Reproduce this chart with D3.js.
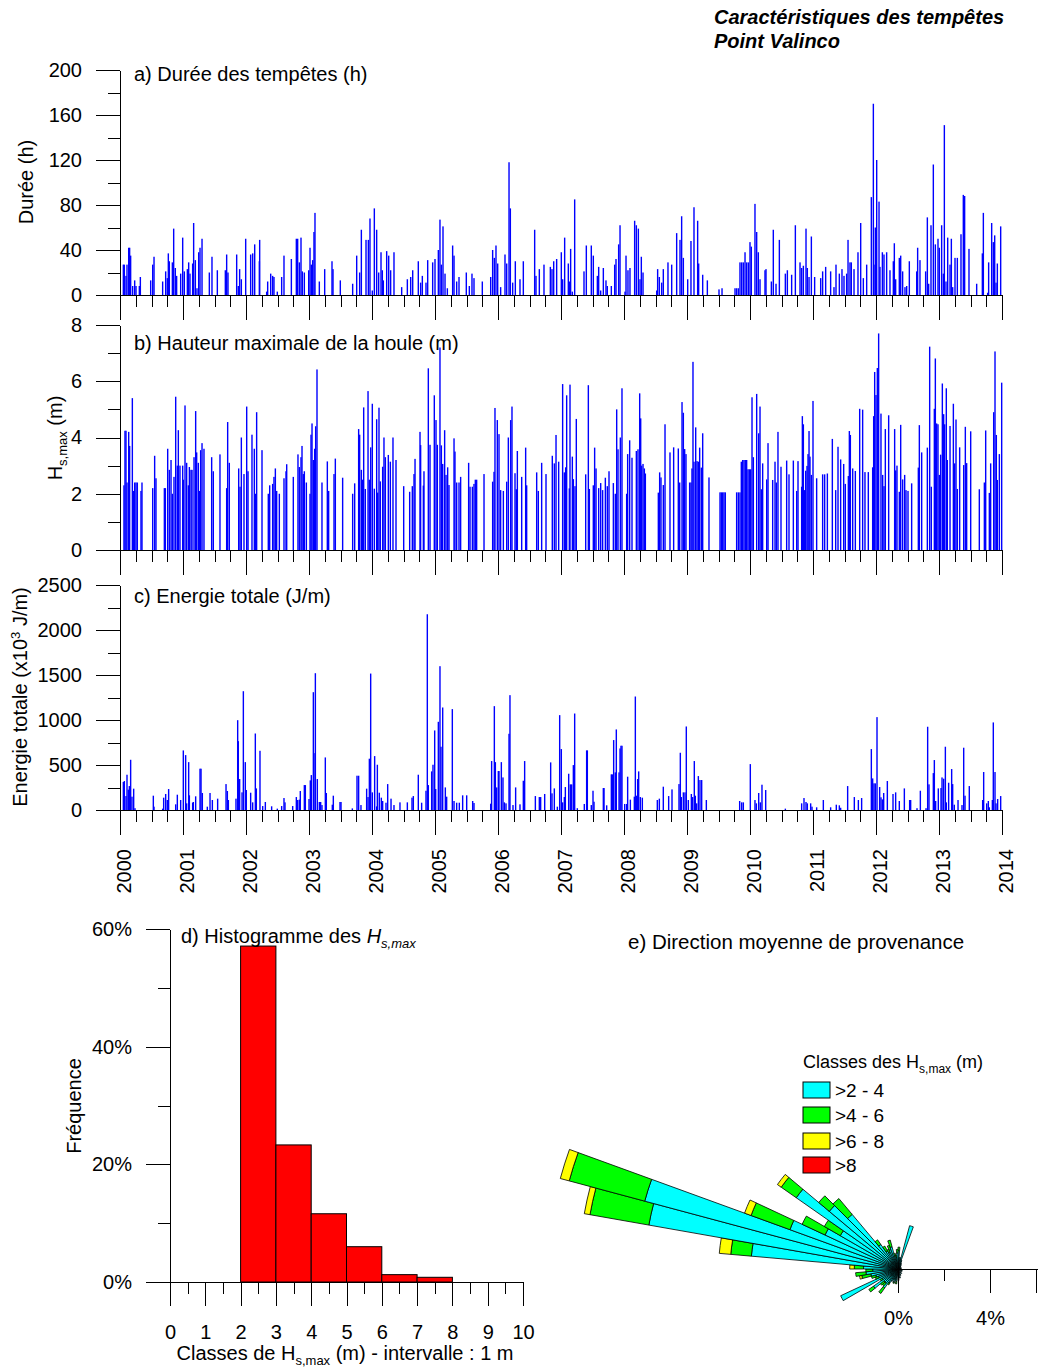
<!DOCTYPE html>
<html>
<head>
<meta charset="utf-8">
<script src="https://cdn.jsdelivr.net/npm/d3@7"></script>
<style>
	body { margin: 0; background: #fff; }
	svg { font-family: "Liberation Sans", Arial, Helvetica, sans-serif; }
	.axis path, .axis line { stroke: #000; stroke-width: 1; shape-rendering: crispEdges; }
	.axis text { font-size: 20px; fill: #000; font-family: "Liberation Sans", Arial, sans-serif; }
	.lbl { font-size: 20px; fill: #000; }
</style>
</head>
<body>
<svg id="chart" width="1038" height="1368"></svg>
<script>
// a) Durée des tempêtes (h) : date (année décimale) et durée
const dureeT = [
	2000.053, 2000.069, 2000.095, 2000.111, 2000.138, 2000.153, 2000.169, 2000.201, 2000.233, 2000.254, 2000.307, 2000.323, 2000.487, 2000.519, 2000.540, 2000.677, 2000.725, 2000.751, 2000.767, 2000.783, 2000.831, 2000.852, 2000.878, 2000.899, 2000.963, 2000.995,
	2001.021, 2001.069, 2001.090, 2001.111, 2001.153, 2001.169, 2001.196, 2001.222, 2001.249, 2001.270, 2001.302, 2001.418, 2001.460, 2001.545, 2001.672, 2001.693, 2001.714, 2001.852, 2001.878, 2001.899, 2001.926, 2001.995,
	2002.074, 2002.106, 2002.138, 2002.212, 2002.217, 2002.328, 2002.344, 2002.392, 2002.423, 2002.444, 2002.497, 2002.566, 2002.603, 2002.720, 2002.799, 2002.820, 2002.847, 2002.873, 2002.894, 2002.926, 2002.995,
	2003.016, 2003.037, 2003.058, 2003.079, 2003.095, 2003.164, 2003.249, 2003.365, 2003.381, 2003.497, 2003.693, 2003.757, 2003.804, 2003.831, 2003.905, 2003.942, 2003.968,
	2004.005, 2004.037, 2004.074, 2004.106, 2004.143, 2004.164, 2004.180, 2004.233, 2004.265, 2004.296, 2004.349, 2004.471, 2004.561, 2004.614, 2004.646, 2004.735, 2004.772, 2004.799, 2004.857, 2004.884, 2004.963,
	2005.000, 2005.053, 2005.079, 2005.101, 2005.127, 2005.159, 2005.196, 2005.280, 2005.302, 2005.344, 2005.381, 2005.497, 2005.545, 2005.587, 2005.619, 2005.751, 2005.884, 2005.915, 2005.942, 2005.968, 2005.995,
	2006.042, 2006.111, 2006.138, 2006.175, 2006.196, 2006.233, 2006.275, 2006.349, 2006.402, 2006.582, 2006.603, 2006.656, 2006.730, 2006.831, 2006.857, 2006.884, 2006.931,
	2007.005, 2007.026, 2007.058, 2007.116, 2007.132, 2007.153, 2007.180, 2007.217, 2007.365, 2007.402, 2007.481, 2007.513, 2007.577, 2007.598, 2007.630, 2007.672, 2007.714, 2007.735, 2007.799, 2007.852, 2007.873, 2007.915, 2007.937,
	2008.016, 2008.032, 2008.063, 2008.095, 2008.169, 2008.196, 2008.228, 2008.254, 2008.275, 2008.302, 2008.519, 2008.534, 2008.561, 2008.598, 2008.624, 2008.698, 2008.757, 2008.836, 2008.889, 2008.915, 2008.942,
	2009.011, 2009.063, 2009.111, 2009.169, 2009.185, 2009.249, 2009.323, 2009.508, 2009.556, 2009.762, 2009.788, 2009.815, 2009.841, 2009.868, 2009.894, 2009.921, 2009.947, 2009.974,
	2010.000, 2010.021, 2010.079, 2010.106, 2010.132, 2010.159, 2010.238, 2010.254, 2010.339, 2010.370, 2010.413, 2010.466, 2010.561, 2010.593, 2010.661, 2010.720, 2010.794, 2010.820, 2010.847, 2010.889, 2010.910, 2010.937, 2010.974,
	2011.026, 2011.122, 2011.153, 2011.201, 2011.280, 2011.333, 2011.365, 2011.418, 2011.460, 2011.492, 2011.534, 2011.556, 2011.587, 2011.608, 2011.651, 2011.714, 2011.757, 2011.799, 2011.852, 2011.926, 2011.958, 2011.968, 2011.989,
	2012.011, 2012.048, 2012.063, 2012.101, 2012.127, 2012.169, 2012.222, 2012.275, 2012.291, 2012.312, 2012.370, 2012.392, 2012.423, 2012.460, 2012.487, 2012.529, 2012.646, 2012.661, 2012.698, 2012.788, 2012.815, 2012.836, 2012.873, 2012.910, 2012.942, 2012.984,
	2013.005, 2013.042, 2013.069, 2013.085, 2013.111, 2013.138, 2013.175, 2013.196, 2013.217, 2013.254, 2013.291, 2013.349, 2013.386, 2013.407, 2013.476, 2013.598, 2013.688, 2013.704, 2013.772, 2013.788, 2013.836, 2013.862, 2013.884, 2013.905, 2013.926, 2013.979
];
const dureeV = [
	27, 27, 17, 27, 42, 42, 35, 8, 13, 8, 8, 16, 13, 27, 34, 12, 21, 15, 37, 30, 29, 59, 24, 17, 19, 51,
	21, 23, 29, 19, 28, 64, 31, 6, 38, 42, 50, 20, 34, 22, 22, 36, 20, 36, 8, 23, 14, 50,
	36, 37, 45, 30, 49, 3, 12, 19, 17, 16, 3, 16, 35, 32, 50, 50, 29, 51, 21, 20, 22,
	42, 27, 31, 56, 73, 12, 23, 30, 23, 13, 10, 35, 20, 58, 49, 49, 68,
	4, 77, 58, 20, 38, 22, 13, 39, 35, 22, 38, 7, 14, 16, 22, 30, 11, 17, 11, 31, 29,
	32, 40, 67, 27, 61, 19, 6, 44, 35, 12, 16, 20, 8, 19, 15, 12, 16, 40, 33, 44, 28,
	7, 36, 28, 118, 77, 11, 30, 14, 30, 58, 17, 23, 27, 25, 23, 30, 32,
	38, 14, 51, 28, 12, 41, 3, 85, 21, 44, 44, 35, 17, 25, 4, 24, 13, 8, 8, 27, 32, 45, 62,
	3, 35, 22, 24, 66, 62, 59, 14, 34, 20, 4, 23, 16, 11, 23, 29, 27, 55, 49, 70, 33,
	14, 48, 78, 66, 28, 18, 13, 5, 6, 6, 6, 6, 29, 29, 29, 38, 29, 29,
	47, 43, 81, 56, 38, 14, 22, 23, 12, 58, 10, 49, 19, 22, 18, 62, 29, 24, 26, 59, 24, 16, 52,
	16, 15, 21, 25, 21, 7, 27, 19, 23, 17, 19, 49, 29, 29, 23, 38, 64, 15, 27, 87, 170, 27, 60,
	120, 83, 25, 38, 36, 38, 22, 30, 46, 14, 33, 35, 21, 7, 8, 30, 21, 42, 31, 21, 69, 10, 62, 116, 45, 50,
	42, 62, 19, 151, 12, 51, 27, 50, 7, 33, 33, 54, 89, 88, 41, 10, 37, 73, 2, 29, 64, 47, 53, 11, 28, 61
];

// b) Hauteur maximale de la houle (m)
const hsT = [
	2000.063, 2000.079, 2000.095, 2000.111, 2000.138, 2000.153, 2000.196, 2000.212, 2000.233, 2000.254, 2000.275, 2000.333, 2000.349, 2000.519, 2000.550, 2000.571, 2000.704, 2000.720, 2000.757, 2000.783, 2000.810, 2000.831, 2000.857, 2000.884, 2000.910, 2000.926, 2000.952, 2000.995,
	2001.005, 2001.032, 2001.058, 2001.085, 2001.101, 2001.127, 2001.143, 2001.175, 2001.201, 2001.217, 2001.243, 2001.259, 2001.280, 2001.302, 2001.333, 2001.455, 2001.481, 2001.587, 2001.693, 2001.709, 2001.735, 2001.884, 2001.905, 2001.926, 2001.968,
	2002.011, 2002.032, 2002.095, 2002.132, 2002.148, 2002.169, 2002.254, 2002.354, 2002.376, 2002.423, 2002.444, 2002.466, 2002.487, 2002.529, 2002.603, 2002.635, 2002.646, 2002.751, 2002.825, 2002.847, 2002.873, 2002.889, 2002.910, 2002.926, 2002.958,
	2003.016, 2003.032, 2003.048, 2003.069, 2003.090, 2003.106, 2003.127, 2003.206, 2003.291, 2003.312, 2003.397, 2003.418, 2003.534, 2003.693, 2003.725, 2003.788, 2003.804, 2003.831, 2003.852, 2003.868, 2003.894, 2003.937, 2003.958, 2003.979,
	2004.005, 2004.037, 2004.074, 2004.090, 2004.111, 2004.132, 2004.169, 2004.190, 2004.212, 2004.259, 2004.291, 2004.333, 2004.381, 2004.503, 2004.598, 2004.640, 2004.667, 2004.683, 2004.762, 2004.772, 2004.815, 2004.825, 2004.894, 2004.921, 2004.989,
	2005.016, 2005.037, 2005.079, 2005.101, 2005.122, 2005.153, 2005.175, 2005.201, 2005.222, 2005.302, 2005.317, 2005.344, 2005.381, 2005.407, 2005.534, 2005.556, 2005.593, 2005.619, 2005.640, 2005.661, 2005.778, 2005.915, 2005.937, 2005.952, 2005.989,
	2006.016, 2006.042, 2006.085, 2006.138, 2006.164, 2006.201, 2006.222, 2006.270, 2006.291, 2006.307, 2006.376, 2006.439, 2006.455, 2006.614, 2006.640, 2006.693, 2006.762, 2006.862, 2006.894, 2006.921, 2006.963,
	2007.026, 2007.053, 2007.074, 2007.090, 2007.132, 2007.143, 2007.180, 2007.196, 2007.222, 2007.243, 2007.392, 2007.434, 2007.450, 2007.513, 2007.534, 2007.556, 2007.598, 2007.630, 2007.661, 2007.704, 2007.735, 2007.762, 2007.831, 2007.862, 2007.884, 2007.905, 2007.942, 2007.968,
	2008.042, 2008.058, 2008.090, 2008.127, 2008.196, 2008.222, 2008.249, 2008.265, 2008.280, 2008.302, 2008.323, 2008.339, 2008.545, 2008.566, 2008.587, 2008.624, 2008.651, 2008.730, 2008.788, 2008.862, 2008.884, 2008.921, 2008.942, 2008.963, 2008.984,
	2009.042, 2009.063, 2009.079, 2009.095, 2009.111, 2009.138, 2009.159, 2009.180, 2009.201, 2009.228, 2009.249, 2009.349, 2009.524, 2009.545, 2009.566, 2009.587, 2009.608, 2009.788, 2009.815, 2009.841, 2009.862, 2009.884, 2009.905, 2009.926, 2009.947, 2009.968, 2009.989,
	2010.011, 2010.032, 2010.053, 2010.106, 2010.138, 2010.159, 2010.180, 2010.201, 2010.265, 2010.286, 2010.360, 2010.397, 2010.418, 2010.444, 2010.492, 2010.582, 2010.619, 2010.688, 2010.741, 2010.762, 2010.820, 2010.831, 2010.847, 2010.862, 2010.884, 2010.905, 2010.921, 2010.937, 2010.952, 2010.974,
	2011.000, 2011.058, 2011.153, 2011.185, 2011.228, 2011.307, 2011.360, 2011.397, 2011.439, 2011.487, 2011.513, 2011.561, 2011.577, 2011.593, 2011.630, 2011.672, 2011.741, 2011.788, 2011.825, 2011.878, 2011.947, 2011.963, 2011.979,
	2012.000, 2012.021, 2012.042, 2012.079, 2012.106, 2012.127, 2012.148, 2012.201, 2012.296, 2012.312, 2012.333, 2012.370, 2012.392, 2012.423, 2012.455, 2012.476, 2012.508, 2012.566, 2012.672, 2012.688, 2012.725, 2012.815, 2012.852, 2012.878, 2012.926, 2012.942, 2012.963, 2012.984,
	2013.005, 2013.026, 2013.053, 2013.074, 2013.090, 2013.116, 2013.132, 2013.175, 2013.228, 2013.249, 2013.270, 2013.291, 2013.328, 2013.392, 2013.418, 2013.439, 2013.503, 2013.640, 2013.720, 2013.741, 2013.799, 2013.820, 2013.868, 2013.889, 2013.910, 2013.926, 2013.958, 2013.995
];
const hsV = [
	2.3, 4.24, 4.24, 2.4, 4.2, 3.7, 5.4, 2.1, 2.4, 2.4, 2.4, 2.1, 2.4, 2.2, 3.35, 2.55, 2.2, 2.2, 3.6, 2.85, 3.2, 2.0, 2.6, 5.45, 3.0, 4.26, 3.0, 3.0,
	2.5, 5.14, 3.1, 2.3, 2.95, 2.85, 2.85, 3.3, 4.94, 3.47, 3.1, 2.1, 3.55, 3.8, 3.6, 3.3, 2.8, 3.4, 2.2, 4.55, 3.1, 2.9, 2.25, 4.0, 2.7,
	5.1, 2.8, 4.1, 3.6, 2.0, 4.9, 3.55, 2.0, 2.3, 2.35, 2.6, 2.9, 2.1, 2.0, 2.55, 2.8, 3.05, 2.6, 3.4, 2.95, 3.3, 3.7, 2.7, 2.8, 2.4,
	2.0, 4.1, 4.5, 3.2, 3.6, 4.4, 6.42, 2.4, 3.15, 2.1, 2.7, 3.25, 2.57, 2.0, 2.37, 4.3, 4.1, 2.85, 2.5, 5.07, 2.17, 5.65, 2.5, 3.65,
	5.2, 2.18, 4.65, 2.04, 5.06, 2.44, 2.96, 4.0, 3.3, 3.38, 3.14, 4.0, 3.2, 2.27, 2.07, 2.27, 2.7, 3.24, 4.2, 3.73, 2.29, 2.8, 6.46, 3.74, 5.5,
	4.62, 3.74, 7.2, 3.72, 3.06, 4.26, 2.67, 2.94, 2.31, 3.97, 3.5, 2.4, 2.4, 2.6, 3.1, 2.25, 2.25, 2.35, 2.5, 2.5, 2.7, 2.43, 2.78, 5.05, 4.62,
	4.12, 2.13, 2.1, 2.43, 4.0, 4.62, 5.1, 2.73, 2.16, 3.52, 2.6, 3.64, 2.3, 2.76, 2.1, 3.1, 2.7, 3.35, 3.08, 4.09, 3.14,
	5.9, 2.76, 2.94, 5.5, 2.19, 5.88, 3.32, 2.52, 2.27, 4.66, 2.69, 5.86, 2.17, 2.3, 3.64, 2.9, 2.2, 2.38, 2.13, 2.57, 2.27, 2.8, 2.38, 2.0, 5.0, 3.58, 4.0, 5.75,
	2.0, 3.41, 3.9, 3.28, 3.52, 3.58, 5.57, 4.68, 3.0, 3.06, 2.9, 2.72, 2.04, 2.76, 2.58, 2.31, 4.47, 3.47, 3.65, 3.61, 2.4, 5.26, 4.88, 3.59, 3.41,
	2.4, 2.4, 2.9, 6.69, 3.14, 4.36, 3.16, 3.14, 3.64, 2.93, 4.15, 2.58, 2.05, 2.05, 2.05, 2.05, 2.05, 2.05, 2.05, 2.05, 3.14, 3.2, 3.2, 3.2, 3.2, 2.87, 2.87,
	2.87, 5.43, 3.3, 5.55, 4.15, 5.1, 2.16, 3.08, 2.51, 3.8, 2.49, 3.14, 2.4, 4.2, 2.96, 3.18, 2.69, 3.18, 2.1, 3.16, 2.25, 4.76, 4.47, 2.13, 2.82, 2.99, 3.41, 4.23, 3.32, 2.67,
	5.3, 2.55, 2.69, 2.69, 2.72, 3.95, 2.13, 3.67, 3.22, 3.06, 2.35, 2.63, 4.23, 4.09, 2.9, 2.81, 5.02, 4.99, 2.77, 2.77, 2.94, 4.76, 6.33,
	5.51, 6.47, 7.7, 4.85, 2.67, 2.27, 4.3, 4.79, 4.3, 2.83, 3.0, 2.07, 4.45, 2.51, 2.67, 2.13, 2.1, 2.37, 2.93, 4.44, 3.47, 3.64, 7.23, 2.25, 5.02, 6.81, 4.5, 4.47,
	2.67, 3.39, 5.92, 4.83, 4.47, 5.75, 3.2, 4.41, 5.2, 3.08, 4.64, 2.17, 3.65, 3.02, 4.38, 3.09, 4.22, 2.16, 2.4, 4.25, 2.03, 3.08, 4.9, 7.06, 4.09, 2.49, 3.41, 5.95
];

// c) Energie totale (x10^3 J/m)
const energieT = [
	2000.053, 2000.069, 2000.095, 2000.111, 2000.132, 2000.148, 2000.169, 2000.190, 2000.217, 2000.238, 2000.529, 2000.540, 2000.677, 2000.693, 2000.725, 2000.751, 2000.772, 2000.884, 2000.910, 2000.963,
	2001.005, 2001.042, 2001.058, 2001.090, 2001.101, 2001.153, 2001.164, 2001.201, 2001.270, 2001.286, 2001.307, 2001.386, 2001.429, 2001.466, 2001.550, 2001.683, 2001.704, 2001.720, 2001.841, 2001.868, 2001.878, 2001.899, 2001.937, 2001.958, 2001.989,
	2002.005, 2002.074, 2002.106, 2002.148, 2002.164, 2002.222, 2002.265, 2002.307, 2002.407, 2002.497, 2002.566, 2002.603, 2002.619, 2002.741, 2002.799, 2002.820, 2002.847, 2002.862, 2002.926, 2002.942,
	2003.000, 2003.021, 2003.037, 2003.069, 2003.079, 2003.101, 2003.132, 2003.164, 2003.185, 2003.206, 2003.259, 2003.275, 2003.370, 2003.386, 2003.492, 2003.508, 2003.688, 2003.762, 2003.788, 2003.825, 2003.915, 2003.937, 2003.958, 2003.979,
	2004.005, 2004.042, 2004.074, 2004.085, 2004.116, 2004.148, 2004.169, 2004.222, 2004.249, 2004.302, 2004.349, 2004.444, 2004.561, 2004.635, 2004.656, 2004.735, 2004.788, 2004.857, 2004.878, 2004.894, 2004.947, 2004.968, 2004.995,
	2005.011, 2005.053, 2005.079, 2005.095, 2005.122, 2005.164, 2005.185, 2005.275, 2005.302, 2005.344, 2005.386, 2005.439, 2005.503, 2005.598, 2005.619, 2005.884, 2005.899, 2005.942, 2005.958, 2005.979,
	2006.005, 2006.016, 2006.053, 2006.079, 2006.101, 2006.127, 2006.175, 2006.190, 2006.238, 2006.280, 2006.349, 2006.402, 2006.423, 2006.593, 2006.656, 2006.677, 2006.741, 2006.836, 2006.857, 2006.894, 2006.942, 2006.979,
	2007.005, 2007.026, 2007.053, 2007.069, 2007.122, 2007.148, 2007.169, 2007.196, 2007.217, 2007.259, 2007.370, 2007.407, 2007.418, 2007.481, 2007.508, 2007.524, 2007.672, 2007.683, 2007.725, 2007.799, 2007.815, 2007.836, 2007.862, 2007.878, 2007.921, 2007.937, 2007.952, 2007.968,
	2008.011, 2008.042, 2008.058, 2008.101, 2008.164, 2008.180, 2008.201, 2008.217, 2008.233, 2008.259, 2008.291, 2008.529, 2008.561, 2008.624, 2008.709, 2008.762, 2008.873, 2008.894, 2008.910, 2008.942, 2008.968, 2008.989,
	2009.021, 2009.069, 2009.090, 2009.116, 2009.132, 2009.153, 2009.180, 2009.206, 2009.233, 2009.307, 2009.836, 2009.868, 2009.894,
	2010.005, 2010.079, 2010.101, 2010.138, 2010.164, 2010.190, 2010.249, 2010.561, 2010.820, 2010.857, 2010.889, 2010.910, 2010.963, 2010.984,
	2011.058, 2011.164, 2011.280, 2011.370, 2011.418, 2011.439, 2011.550, 2011.656, 2011.720, 2011.772, 2011.926, 2011.947, 2011.968, 2011.989,
	2012.016, 2012.058, 2012.079, 2012.101, 2012.122, 2012.180, 2012.270, 2012.312, 2012.370, 2012.450, 2012.534, 2012.550, 2012.651, 2012.704, 2012.794, 2012.820, 2012.841, 2012.910, 2012.926, 2012.947, 2012.989,
	2013.032, 2013.048, 2013.074, 2013.101, 2013.116, 2013.153, 2013.201, 2013.217, 2013.243, 2013.302, 2013.365, 2013.392, 2013.413, 2013.481, 2013.693, 2013.709, 2013.757, 2013.783, 2013.799, 2013.847, 2013.862, 2013.889, 2013.905, 2013.931, 2013.979
];
const energieV = [
	311, 322, 155, 392, 226, 266, 558, 148, 237, 20, 159, 37, 15, 137, 178, 111, 233, 63, 170, 111,
	662, 610, 74, 532, 163, 81, 89, 152, 459, 459, 189, 37, 189, 111, 126, 288, 211, 111, 126, 998, 765, 344, 196, 1320, 532,
	222, 192, 85, 850, 240, 658, 44, 89, 41, 15, 44, 133, 85, 44, 144, 111, 115, 211, 277, 277,
	122, 329, 388, 1309, 632, 1520, 344, 89, 89, 55, 584, 189, 59, 159, 89, 89, 18, 381, 381, 55, 237, 144, 570, 1516,
	196, 599, 40, 503, 192, 137, 100, 81, 288, 126, 55, 85, 85, 137, 155, 392, 81, 214, 2175, 277, 429, 503, 884,
	233, 980, 1598, 703, 1139, 251, 148, 1121, 100, 81, 81, 163, 163, 100, 78, 70, 544, 1154, 532, 251,
	433, 433, 532, 362, 85, 74, 847, 1276, 55, 251, 63, 325, 544, 155, 144, 144, 178, 529, 185, 240, 37, 1054,
	677, 85, 144, 255, 403, 285, 285, 499, 1072, 20, 67, 662, 662, 55, 214, 92, 244, 244, 52, 396, 396, 777, 418, 895, 418, 684, 714, 714,
	67, 67, 370, 115, 148, 1261, 159, 344, 429, 144, 137, 111, 126, 259, 155, 229, 288, 636, 144, 196, 196, 928,
	111, 178, 144, 544, 159, 74, 377, 333, 333, 111, 100, 85, 85,
	510, 111, 74, 189, 85, 281, 222, 15, 74, 133, 89, 74, 74, 37,
	30, 111, 30, 59, 52, 25, 266, 144, 111, 133, 677, 351, 296, 296,
	1032, 255, 141, 118, 189, 322, 178, 196, 100, 240, 111, 111, 20, 214, 20, 925, 285, 410, 555, 100, 240,
	244, 362, 348, 703, 85, 303, 455, 288, 59, 111, 55, 692, 159, 266, 111, 422, 74, 100, 30, 111, 973, 422, 74, 122, 155
];

// d) Histogramme des Hs,max : classes de 1 m, fréquence en %
const histClasses = [2, 3, 4, 5, 6, 7];
const histFreq = [57.1, 23.3, 11.6, 6.0, 1.25, 0.8];

// e) Direction moyenne de provenance (secteurs de 5°), fréquence en % par classe de Hs,max
const roseDir = [2.5, 7.5, 12.5, 17.5, 22.5, 27.5, 32.5, 42.5, 52.5, 67.5, 82.5, 97.5, 112.5, 127.5, 142.5, 157.5, 167.5, 177.5, 187.5, 192.5, 197.5, 202.5, 207.5, 212.5, 217.5, 222.5, 227.5, 232.5, 237.5, 242.5, 247.5, 252.5, 257.5, 262.5, 267.5, 272.5, 277.5, 282.5, 287.5, 292.5, 297.5, 302.5, 307.5, 312.5, 317.5, 322.5, 327.5, 332.5, 337.5, 342.5, 347.5, 352.5, 357.5];
const rose2to4 = [0.8, 0.5, 0.5, 1.95, 0.4, 0.3, 0.25, 0.2, 0.15, 0.15, 0.15, 0.15, 0.2, 0.2, 0.25, 0.3, 0.4, 0.5, 0.55, 0.5, 0.6, 0.5, 0.6, 0.7, 1.0, 0.8, 0.8, 1.3, 0.8, 2.75, 0.9, 1.0, 1.2, 1.4, 1.1, 1.5, 6.4, 11.0, 11.4, 5.0, 3.5, 2.9, 5.4, 3.9, 3.1, 1.3, 0.9, 0.8, 0.9, 1.0, 0.6, 0.5, 0.7];
const rose4to6 = [0.15, 0, 0, 0, 0, 0, 0, 0, 0, 0, 0, 0, 0, 0, 0, 0, 0, 0, 0.1, 0, 0.05, 0, 0, 0.1, 0.3, 0.15, 0.2, 0.25, 0.1, 0, 0.15, 0.2, 0.4, 0.45, 0.3, 0.4, 0.9, 2.6, 3.4, 1.8, 1.1, 0.8, 0.8, 0.6, 0.9, 0.25, 0.25, 0.15, 0.2, 0.3, 0.1, 0.1, 0.15];
const rose6to8 = [0, 0, 0, 0, 0, 0, 0, 0, 0, 0, 0, 0, 0, 0, 0, 0, 0, 0, 0, 0, 0, 0, 0, 0, 0, 0, 0, 0, 0, 0, 0, 0, 0.1, 0, 0, 0.2, 0.5, 0.25, 0.4, 0.3, 0, 0, 0.2, 0, 0, 0, 0, 0, 0, 0, 0, 0, 0];
const roseAbove8 = roseDir.map(() => 0);
const roseClasses = ['>2 - 4', '>4 - 6', '>6 - 8', '>8'];
const roseColors = ['#00ffff', '#00ff00', '#ffff00', '#ff0000'];

const years = d3.range(2000, 2015);
const quarters = d3.range(2000, 2014, 0.25).filter((d) => d % 1 !== 0);

const svg = d3.select('#chart');
const X_LEFT = 120;
const X_RIGHT = 1002;
const xTime = d3.scaleLinear().domain([ 2000, 2014 ]).range([ X_LEFT, X_RIGHT ]);

// Titre général
svg.append('text').attr('x', 714).attr('y', 24).attr('class', 'lbl')
	.style('font-weight', 'bold').style('font-style', 'italic').text('Caractéristiques des tempêtes');
svg.append('text').attr('x', 714).attr('y', 48).attr('class', 'lbl')
	.style('font-weight', 'bold').style('font-style', 'italic').text('Point Valinco');

function drawPanel(cfg) {
	const y = d3.scaleLinear().domain(cfg.domain).range([ cfg.bottom, cfg.top ]);
	const g = svg.append('g');
	const rows = cfg.t.map((t, i) => ({ t: t, v: cfg.v[i] }));

	g.append('g').selectAll('rect').data(rows).join('rect')
		.attr('x', (d) => xTime(d.t) - 0.7)
		.attr('width', 1.4)
		.attr('y', (d) => y(d.v))
		.attr('height', (d) => y(0) - y(d.v))
		.attr('fill', '#0000ff');

	g.append('g').attr('class', 'axis').attr('transform', 'translate(' + X_LEFT + ',0)')
		.call(d3.axisLeft(y).tickValues(cfg.minor).tickSize(12).tickFormat('').tickSizeOuter(0));
	g.append('g').attr('class', 'axis').attr('transform', 'translate(' + X_LEFT + ',0)')
		.call(d3.axisLeft(y).tickValues(cfg.major).tickSize(24).tickPadding(14)
			.tickFormat(d3.format('d')).tickSizeOuter(0));
	g.append('g').attr('class', 'axis').attr('transform', 'translate(0,' + cfg.bottom + ')')
		.call(d3.axisBottom(xTime).tickValues(quarters).tickSize(12).tickFormat('').tickSizeOuter(0));
	g.append('g').attr('class', 'axis').attr('transform', 'translate(0,' + cfg.bottom + ')')
		.call(d3.axisBottom(xTime).tickValues(years).tickSize(25).tickFormat('').tickSizeOuter(0));

	g.append('text').attr('class', 'lbl').attr('x', 134).attr('y', cfg.top + cfg.titleDy).text(cfg.title);
	return g;
}

drawPanel({ t: dureeT, v: dureeV, domain: [ 0, 200 ], top: 70, bottom: 295,
	major: d3.range(0, 201, 40), minor: d3.range(20, 200, 40), title: 'a) Durée des tempêtes (h)', titleDy: 11 });
drawPanel({ t: hsT, v: hsV, domain: [ 0, 8 ], top: 325, bottom: 550,
	major: [ 0, 2, 4, 6, 8 ], minor: [ 1, 3, 5, 7 ], title: 'b) Hauteur maximale de la houle (m)', titleDy: 25 });
drawPanel({ t: energieT, v: energieV, domain: [ 0, 2500 ], top: 585, bottom: 810,
	major: d3.range(0, 2501, 500), minor: d3.range(250, 2500, 500), title: 'c) Energie totale (J/m)', titleDy: 18 });

// Etiquettes des années (verticales)
svg.append('g').selectAll('text').data(years).join('text')
	.attr('class', 'lbl')
	.attr('text-anchor', 'end')
	.attr('transform', (d) => 'translate(' + (xTime(d) + 10.5) + ',849) rotate(-90)')
	.text((d) => d);

// Titres des axes verticaux
svg.append('text').attr('class', 'lbl').attr('text-anchor', 'middle')
	.attr('transform', 'translate(33,182) rotate(-90)').text('Durée (h)');
const hsLabel = svg.append('text').attr('class', 'lbl').attr('text-anchor', 'middle')
	.attr('transform', 'translate(62,438) rotate(-90)');
hsLabel.append('tspan').text('H');
hsLabel.append('tspan').attr('dy', 5).style('font-size', '13px').text('s,max');
hsLabel.append('tspan').attr('dy', -5).text(' (m)');
const enLabel = svg.append('text').attr('class', 'lbl').attr('text-anchor', 'middle')
	.attr('transform', 'translate(27,697) rotate(-90)');
enLabel.append('tspan').text('Energie totale (x10');
enLabel.append('tspan').attr('dy', -7).style('font-size', '13px').text('3');
enLabel.append('tspan').attr('dy', 7).text(' J/m)');

// d) Histogramme
const xHist = d3.scaleLinear().domain([ 0, 10 ]).range([ 170, 523 ]);
const yHist = d3.scaleLinear().domain([ 0, 60 ]).range([ 1282, 929 ]);
svg.append('g').selectAll('rect').data(histClasses).join('rect')
	.attr('x', (d) => xHist(d))
	.attr('width', (d) => xHist(d + 1) - xHist(d))
	.attr('y', (d, i) => yHist(histFreq[i]))
	.attr('height', (d, i) => yHist(0) - yHist(histFreq[i]))
	.attr('fill', '#ff0000')
	.attr('stroke', '#000')
	.attr('stroke-width', 1);
svg.append('g').attr('class', 'axis').attr('transform', 'translate(170,0)')
	.call(d3.axisLeft(yHist).tickValues([ 10, 30, 50 ]).tickSize(12).tickFormat('').tickSizeOuter(0));
svg.append('g').attr('class', 'axis').attr('transform', 'translate(170,0)')
	.call(d3.axisLeft(yHist).tickValues([ 0, 20, 40, 60 ]).tickSize(24).tickPadding(14)
		.tickFormat((d) => d + '%').tickSizeOuter(0));
svg.append('g').attr('class', 'axis').attr('transform', 'translate(0,1282)')
	.call(d3.axisBottom(xHist).tickValues(d3.range(0.5, 10, 1)).tickSize(12).tickFormat('').tickSizeOuter(0));
svg.append('g').attr('class', 'axis').attr('transform', 'translate(0,1282)')
	.call(d3.axisBottom(xHist).tickValues(d3.range(0, 11)).tickSize(24).tickPadding(19).tickSizeOuter(0));

const histTitle = svg.append('text').attr('class', 'lbl').attr('x', 181).attr('y', 943);
histTitle.append('tspan').text('d) Histogramme des ');
histTitle.append('tspan').style('font-style', 'italic').text('H');
histTitle.append('tspan').style('font-style', 'italic').style('font-size', '13px').attr('dy', 5).text('s,max');
const histX = svg.append('text').attr('class', 'lbl').attr('x', 345).attr('y', 1360).attr('text-anchor', 'middle');
histX.append('tspan').text('Classes de H');
histX.append('tspan').attr('dy', 5).style('font-size', '13px').text('s,max');
histX.append('tspan').attr('dy', -5).text(' (m) - intervalle : 1 m');
svg.append('text').attr('class', 'lbl').attr('text-anchor', 'middle')
	.attr('transform', 'translate(81,1106) rotate(-90)').text('Fréquence');

// e) Rose des directions
const CX = 898;
const CY = 1269;
const rRose = d3.scaleLinear().domain([ 0, 6 ]).range([ 0, 138 ]);
const rad = (deg) => deg * Math.PI / 180;
const roseSeries = [ rose2to4, rose4to6, rose6to8, roseAbove8 ];
const petals = [];
roseDir.forEach((dir, i) => {
	let cum = 0;
	roseSeries.forEach((series, k) => {
		const v = series[i];
		if (v > 0) {
			petals.push({ dir: dir, r0: cum, r1: cum + v, k: k });
			cum += v;
		}
	});
});
const arc = d3.arc()
	.innerRadius((d) => rRose(d.r0))
	.outerRadius((d) => rRose(d.r1))
	.startAngle((d) => rad(d.dir - 2.5))
	.endAngle((d) => rad(d.dir + 2.5));
svg.append('g').attr('transform', 'translate(' + CX + ',' + CY + ')')
	.selectAll('path').data(petals).join('path')
	.attr('d', arc)
	.attr('fill', (d) => roseColors[d.k])
	.attr('stroke', '#000')
	.attr('stroke-width', 0.8);

const xRose = d3.scaleLinear().domain([ 0, 6.1 ]).range([ CX, CX + rRose(6.1) ]);
svg.append('g').attr('class', 'axis').attr('transform', 'translate(0,' + CY + ')')
	.call(d3.axisBottom(xRose).tickValues([ 2 ]).tickSize(12).tickFormat('').tickSizeOuter(0));
svg.append('g').attr('class', 'axis').attr('transform', 'translate(0,' + CY + ')')
	.call(d3.axisBottom(xRose).tickValues([ 0, 4, 6 ]).tickSize(24).tickPadding(18)
		.tickFormat((d) => (d < 6 ? d + '%' : '')).tickSizeOuter(0));

svg.append('text').attr('class', 'lbl').attr('x', 628).attr('y', 949)
	.style('font-size', '20.5px').text('e) Direction moyenne de provenance');

const legTitle = svg.append('text').attr('class', 'lbl').attr('x', 803).attr('y', 1068).style('font-size', '18px');
legTitle.append('tspan').text('Classes des H');
legTitle.append('tspan').attr('dy', 5).style('font-size', '12px').text('s,max');
legTitle.append('tspan').attr('dy', -5).text(' (m)');
const legend = svg.append('g').selectAll('g').data(roseClasses).join('g')
	.attr('transform', (d, i) => 'translate(803,' + [ 1082, 1107, 1133, 1157 ][i] + ')');
legend.append('rect').attr('width', 27).attr('height', 16)
	.attr('fill', (d, i) => roseColors[i]).attr('stroke', '#000').attr('stroke-width', 1);
legend.append('text').attr('class', 'lbl').attr('x', 32).attr('y', 15).style('font-size', '19px').text((d) => d);
</script>
</body>
</html>
